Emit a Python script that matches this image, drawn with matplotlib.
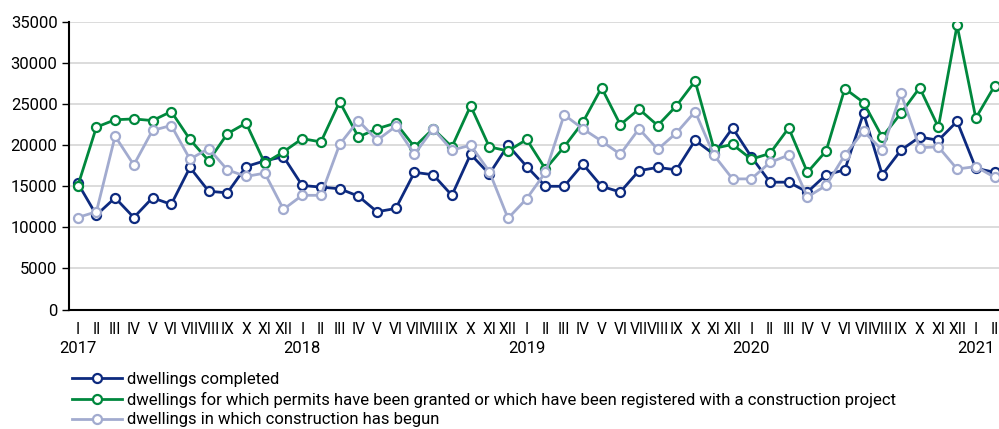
import matplotlib.pyplot as plt
import matplotlib.transforms as mtransforms

plt.rcParams['font.family'] = ['Roboto', 'DejaVu Sans']

# monthly values, I 2017 - II 2021
completed = [15400, 11500, 13600, 11200, 13600, 12800, 17300, 14400, 14200, 17400, 18100, 18600,
             15100, 14900, 14700, 13800, 11900, 12300, 16700, 16400, 13900, 18900, 16500, 20000,
             17400, 15000, 15000, 17700, 15000, 14300, 16900, 17300, 17000, 20600, 18900, 22100,
             18600, 15500, 15500, 14300, 16400, 17000, 23900, 16400, 19400, 21000, 20600, 22900,
             17200, 16700]
permits = [15000, 22200, 23100, 23200, 23000, 24100, 20700, 18100, 21400, 22700, 17800, 19200,
           20800, 20400, 25300, 21000, 22000, 22700, 19800, 22000, 19800, 24800, 19800, 19300,
           20700, 17100, 19800, 22800, 27000, 22500, 24400, 22400, 24800, 27800, 19600, 20100,
           18300, 19000, 22100, 16700, 19300, 26900, 25200, 21000, 23900, 27000, 22200, 34600,
           23300, 27200]
begun = [11200, 11900, 21100, 17600, 21800, 22400, 18300, 19600, 17000, 16200, 16600, 12200,
         13900, 13900, 20100, 23000, 20600, 22300, 18900, 22000, 19400, 20000, 16800, 11100,
         13500, 16700, 23700, 22000, 20500, 18900, 22000, 19500, 21500, 24100, 18800, 15900,
         15900, 17900, 18800, 13700, 15100, 18800, 21700, 19400, 26300, 19700, 19800, 17100,
         17400, 16100]
months = ['I', 'II', 'III', 'IV', 'V', 'VI', 'VII', 'VIII', 'IX', 'X', 'XI', 'XII']
years = ['2017', '2018', '2019', '2020', '2021']
labels = ['dwellings completed',
          'dwellings for which permits have been granted or which have been registered with a construction project',
          'dwellings in which construction has begun']
colors = ['#0d2a7f', '#00883d', '#a2abcf']

n = len(completed)
x = list(range(n))
fs = 12

fig = plt.figure(figsize=(9.99, 4.29), dpi=100)
ax = fig.add_axes([68.7 / 999, 1 - 309.5 / 429, 1 - 68.7 / 999, 287.5 / 429])

handles = []
for vals, c, lab in zip([completed, permits, begun], colors, labels):
    h, = ax.plot(x, vals, color=c, lw=2.0, marker='o', ms=6.5, mfc='white', mec=c, mew=1.6,
                 label=lab, zorder=3)
    handles.append(h)

ax.set_ylim(0, 35000)
ax.set_xlim(-0.48, 49.24)
ax.set_yticks(range(0, 35001, 5000))
ax.yaxis.grid(True, color='#d9d9d9', lw=1.3)
ax.set_axisbelow(True)
for s in ['top', 'right']:
    ax.spines[s].set_visible(False)
ax.spines['left'].set_linewidth(1.5)
ax.spines['bottom'].set_linewidth(1.5)
ax.tick_params(axis='y', length=5, width=1, labelsize=fs, pad=3)
ax.set_xticks(x)
ax.set_xticklabels([months[i % 12] for i in x])
ax.tick_params(axis='x', length=0, labelsize=11.2, pad=9)

trans = mtransforms.blended_transform_factory(ax.transData, ax.transAxes)
for k, yr in enumerate(years):
    ax.text(k * 12, -0.108, yr, transform=trans, ha='center', va='top', fontsize=fs)

fig.legend(handles=handles, loc='upper left', bbox_to_anchor=(72 / 999, 1 - 372 / 429),
           frameon=False, fontsize=fs, handlelength=3.0, handletextpad=0.3,
           labelspacing=0.28, borderaxespad=0, borderpad=0)

plt.savefig('out.png', dpi=100)
